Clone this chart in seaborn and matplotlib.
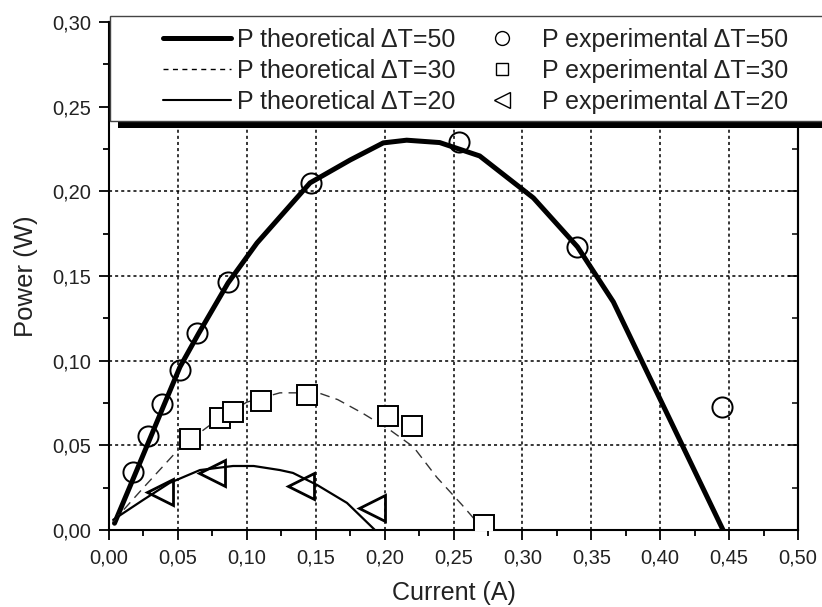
import matplotlib
matplotlib.use('Agg')
import matplotlib.pyplot as plt
import seaborn as sns
from matplotlib.lines import Line2D
from matplotlib.patches import Rectangle
from matplotlib.ticker import FixedLocator, MultipleLocator

# ---------------- data ----------------
theo50_x = [0.004, 0.02, 0.04, 0.0515, 0.065, 0.0864, 0.1074, 0.1459, 0.175, 0.199, 0.216, 0.240, 0.269, 0.308, 0.340, 0.366, 0.4456]
theo50_y = [0.004, 0.035, 0.074, 0.0963, 0.116, 0.1459, 0.1695, 0.205, 0.2185, 0.2286, 0.2302, 0.2288, 0.2209, 0.1961, 0.1672, 0.1347, 0.0]

theo30_x = [0.003, 0.025, 0.052, 0.075, 0.100, 0.124, 0.152, 0.166, 0.184, 0.204, 0.221, 0.238, 0.256, 0.272]
theo30_y = [0.005, 0.025, 0.049, 0.063, 0.0755, 0.081, 0.081, 0.077, 0.069, 0.059, 0.049, 0.031, 0.015, 0.0]

theo20_x = [0.003, 0.0247, 0.044, 0.066, 0.090, 0.105, 0.124, 0.1335, 0.151, 0.1727, 0.193]
theo20_y = [0.006, 0.0177, 0.0278, 0.0354, 0.0378, 0.0378, 0.0354, 0.0337, 0.0266, 0.016, 0.0]

exp50_x = [0.0174, 0.0285, 0.0388, 0.0517, 0.0639, 0.0866, 0.1465, 0.254, 0.3394, 0.4452]
exp50_y = [0.0341, 0.0555, 0.0745, 0.0945, 0.1162, 0.1467, 0.2048, 0.2294, 0.1673, 0.0728]

exp30_x = [0.0591, 0.0802, 0.0902, 0.1101, 0.144, 0.2025, 0.220, 0.2718]
exp30_y = [0.0535, 0.0659, 0.0699, 0.0763, 0.080, 0.0672, 0.0617, 0.0027]

exp20_x = [0.0369, 0.0751, 0.1393, 0.1912]
exp20_y = [0.0226, 0.0337, 0.026, 0.0132]

x_ticks = [0.00, 0.05, 0.10, 0.15, 0.20, 0.25, 0.30, 0.35, 0.40, 0.45, 0.50]
x_tick_labels = ['0,00', '0,05', '0,10', '0,15', '0,20', '0,25', '0,30', '0,35', '0,40', '0,45', '0,50']
y_ticks = [0.00, 0.05, 0.10, 0.15, 0.20, 0.25, 0.30]
y_tick_labels = ['0,00', '0,05', '0,10', '0,15', '0,20', '0,25', '0,30']

legend_labels = ['P theoretical \u0394T=50', 'P theoretical \u0394T=30', 'P theoretical \u0394T=20',
                 'P experimental \u0394T=50', 'P experimental \u0394T=30', 'P experimental \u0394T=20']

# ---------------- style ----------------
sns.set_style('white')
plt.rcParams['font.family'] = ['Liberation Sans', 'DejaVu Sans']

W, H = 822, 607
fig = plt.figure(figsize=(W / 100, H / 100), dpi=100)
ax = fig.add_axes([109 / W, 1 - 530 / H, 689 / W, 508 / H])

# theoretical curves
sns.lineplot(x=theo50_x, y=theo50_y, ax=ax, sort=False, estimator=None,
             color='black', linewidth=3.6, zorder=3)
sns.lineplot(x=theo30_x, y=theo30_y, ax=ax, sort=False, estimator=None,
             color='#333333', linewidth=1.0, linestyle=(0, (7, 4.5)), zorder=3)
sns.lineplot(x=theo20_x, y=theo20_y, ax=ax, sort=False, estimator=None,
             color='black', linewidth=1.6, zorder=3)

# experimental points
sns.lineplot(x=exp50_x, y=exp50_y, ax=ax, sort=False, estimator=None,
             linestyle='none', marker='o', markersize=14.5, markerfacecolor='none',
             markeredgecolor='black', markeredgewidth=1.4, zorder=4)
sns.lineplot(x=exp30_x, y=exp30_y, ax=ax, sort=False, estimator=None,
             linestyle='none', marker='s', markersize=14, markerfacecolor='white',
             markeredgecolor='black', markeredgewidth=1.4, zorder=4)
sns.lineplot(x=exp20_x, y=exp20_y, ax=ax, sort=False, estimator=None,
             linestyle='none', marker='<', markersize=18.5, markerfacecolor='none',
             markeredgecolor='black', markeredgewidth=2.0, zorder=4)

# axes
ax.set_xlim(0, 0.5)
ax.set_ylim(0, 0.3)
ax.xaxis.set_major_locator(FixedLocator(x_ticks))
ax.set_xticklabels(x_tick_labels)
ax.yaxis.set_major_locator(FixedLocator(y_ticks))
ax.set_yticklabels(y_tick_labels)
ax.xaxis.set_minor_locator(MultipleLocator(0.025))
ax.yaxis.set_minor_locator(MultipleLocator(0.025))
ax.tick_params(which='major', direction='out', length=7, width=1.3, labelsize=14.5,
               color='black', labelcolor='#222222', pad=6)
ax.tick_params(which='minor', direction='out', length=4.5, width=1.3, color='black')
ax.tick_params(left=True, bottom=True, which='both')

ax.set_axisbelow(True)
ax.grid(True, which='major', color='black', linestyle=(0, (2, 2)), linewidth=1.1)

for s in ax.spines.values():
    s.set_color('black')
    s.set_linewidth(1.5)

sec = ax.secondary_yaxis('right')
sec.yaxis.set_major_locator(FixedLocator(y_ticks))
sec.yaxis.set_minor_locator(MultipleLocator(0.025))
sec.tick_params(which='major', direction='in', length=7, width=1.3, labelright=False)
sec.tick_params(which='minor', direction='in', length=4, width=1.3)
sec.spines['right'].set_linewidth(1.5)

ax.set_xlabel('Current (A)', fontsize=18, color='#222222', labelpad=10)
ax.set_ylabel('Power (W)', fontsize=18.5, color='#222222', labelpad=10)

# legend frame with offset shadow
fig.add_artist(Rectangle((118 / W, 1 - 128 / H), (840 - 118) / W, (128 - 23) / H,
                         transform=fig.transFigure, facecolor='black', edgecolor='none', zorder=4))
fig.add_artist(Rectangle((110 / W, 1 - 121 / H), (840 - 110) / W, (121 - 16) / H,
                         transform=fig.transFigure, facecolor='white', edgecolor='#444444',
                         linewidth=1.0, zorder=4.5))

handles = [
    Line2D([], [], color='black', linewidth=3.6),
    Line2D([], [], color='black', linewidth=1.0, linestyle=(0, (3.6, 3.2))),
    Line2D([], [], color='black', linewidth=1.5),
    Line2D([], [], linestyle='none', marker='o', markersize=10, markerfacecolor='none',
           markeredgecolor='black', markeredgewidth=1.0),
    Line2D([], [], linestyle='none', marker='s', markersize=9, markerfacecolor='none',
           markeredgecolor='black', markeredgewidth=1.0),
    Line2D([], [], linestyle='none', marker='<', markersize=11, markerfacecolor='none',
           markeredgecolor='black', markeredgewidth=1.0),
]
leg = fig.legend(handles, legend_labels, loc='upper left', bbox_to_anchor=(163 / W, 1 - 28 / H),
                 ncol=2, frameon=False, borderpad=0, borderaxespad=0, handlelength=2.7,
                 handletextpad=0.25, columnspacing=0.5, labelspacing=0.28, fontsize=18)
for t in leg.get_texts():
    t.set_color('#222222')
leg.set_zorder(5)

fig.savefig('out.png', dpi=100)
